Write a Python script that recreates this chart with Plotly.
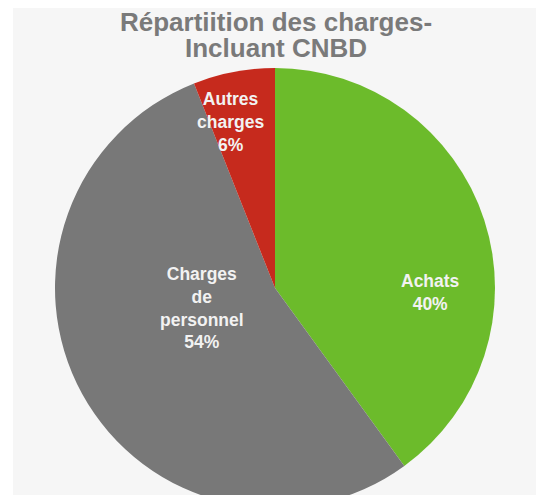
import plotly.graph_objects as go

labels = ["Achats", "Charges de personnel", "Autres charges"]
label_text = ["Achats", "Charges<br>de<br>personnel", "Autres<br>charges"]
values = [40, 54, 6]
colors = ["#6cbb2b", "#787878", "#c62a1d"]

# page has an 8px body margin; work in page pixels and shift
OFF = 8
W, H = 544 - OFF, 508 - OFF
R = 220
cx, cy = 275 - OFF, 288 - OFF
L = cx - R
Rm = W - (cx + R)
T = cy - R
B = H - (cy + R)
pw, ph = W - L - Rm, H - T - B

def px_x(x):
    return (x - OFF - L) / pw

def px_y(y):
    return 1 - (y - OFF - T) / ph

fig = go.Figure(go.Pie(
    labels=labels,
    values=values,
    marker=dict(colors=colors, line=dict(width=0)),
    sort=False,
    direction="clockwise",
    rotation=0,
    textinfo="none",
    hoverinfo="label+percent",
    showlegend=False,
))

label_pos = [(430, 292), (202, 308), (230, 122)]
annotations = []
for txt, v, (x, y) in zip(label_text, values, label_pos):
    annotations.append(dict(
        x=px_x(x), y=px_y(y), xref="paper", yref="paper",
        text=f"<b>{txt}<br>{v}%</b>", showarrow=False,
        font=dict(family="Liberation Sans, Arial, sans-serif", size=17.5, color="#f2f2f2"),
        xanchor="center", yanchor="middle",
    ))

title_lines = ["Répartiition des charges-", "Incluant CNBD"]
for line, y in zip(title_lines, [22, 48]):
    annotations.append(dict(
        x=px_x(276), y=px_y(y), xref="paper", yref="paper",
        text=f"<b>{line}</b>", showarrow=False,
        font=dict(family="Liberation Sans, Arial, sans-serif", size=26, color="#7a7a7a"),
        xanchor="center", yanchor="middle",
    ))

shapes = [
    dict(type="rect", xref="paper", yref="paper", x0=px_x(0), x1=px_x(13), y0=px_y(H + OFF), y1=px_y(0),
         fillcolor="white", line=dict(width=0), layer="below"),
]

fig.update_layout(
    width=W, height=H,
    margin=dict(l=L, r=Rm, t=T, b=B, pad=0),
    paper_bgcolor="#f6f6f6",
    plot_bgcolor="#f6f6f6",
    annotations=annotations,
    shapes=shapes,
)

fig.write_html("out.html")
